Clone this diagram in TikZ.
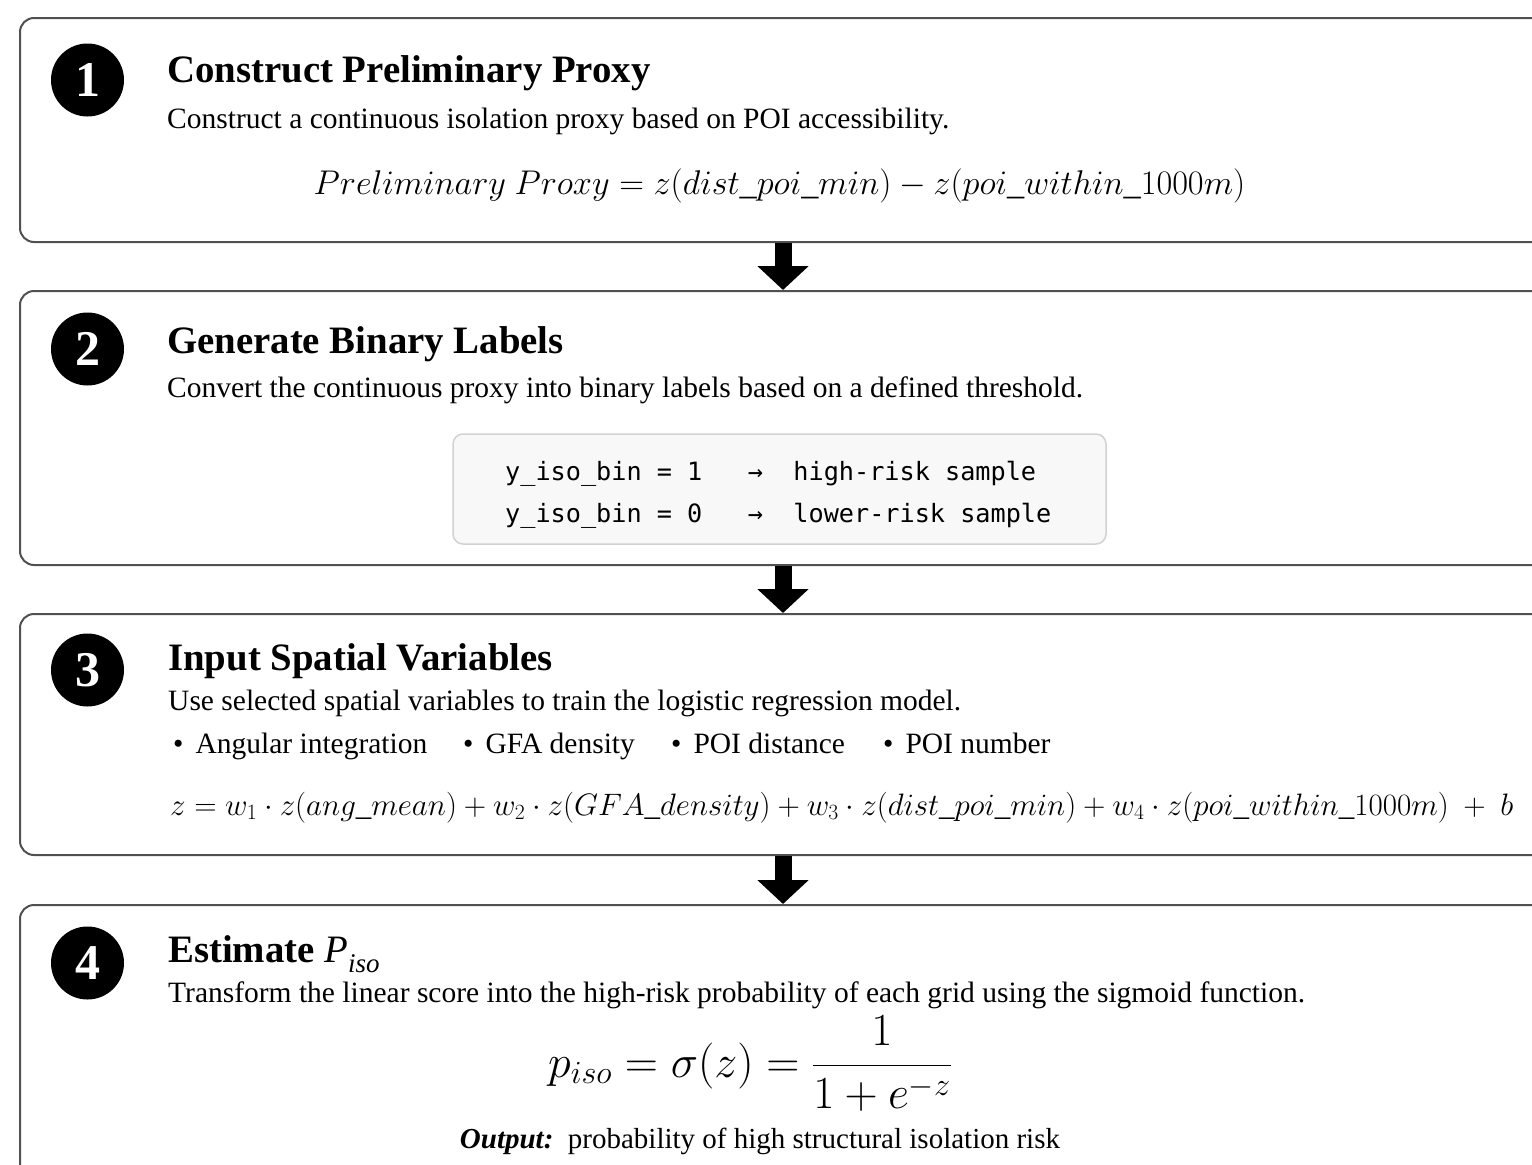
\RequirePackage{fix-cm}
\documentclass[tikz,border=0pt]{standalone}
\usepackage[no-math]{fontspec}
\setmainfont{Liberation Serif}
\setmonofont{DejaVu Sans Mono}
\usetikzlibrary{arrows.meta}
\definecolor{boxgray}{HTML}{505050}
\definecolor{codeline}{HTML}{D2D2D2}
\definecolor{codefill}{HTML}{F8F8F8}
\begin{document}
\begin{tikzpicture}[x=1pt,y=-1pt,
  stepbox/.style={draw=boxgray, line width=2pt, rounded corners=14pt, fill=white, minimum width=1526pt, inner sep=0pt},
  badge/.style={circle, fill=black, minimum size=73pt, inner sep=0pt, text=white, font=\fontsize{50}{50}\selectfont\bfseries},
  ttl/.style={anchor=base west, inner sep=0pt, font=\fontsize{38.8}{44}\selectfont\bfseries},
  desc/.style={anchor=base west, inner sep=0pt, font=\fontsize{29.5}{34}\selectfont},
  eq/.style={anchor=base, inner sep=0pt},
  code/.style={anchor=base west, inner sep=0pt, font=\fontsize{25.2}{30}\selectfont\ttfamily},
  flow/.style={line width=17pt, -{Triangle[width=50pt,length=24pt]}},
]
\useasboundingbox (0,0) rectangle (1532,1165);
\clip (0,0) rectangle (1532,1165);
\fill[white] (0,0) rectangle (1532,1165);

% step boxes
\node[stepbox, minimum height=224pt] (b1) at (783,130) {};
\node[stepbox, minimum height=274pt] (b2) at (783,428) {};
\node[stepbox, minimum height=241pt] (b3) at (783,734.5) {};
\node[stepbox, minimum height=290pt] (b4) at (783,1050) {};

% connectors
\draw[flow] (b1.south) -- (b2.north);
\draw[flow] (b2.south) -- (b3.north);
\draw[flow] (b3.south) -- (b4.north);

% badges
\node[badge] (n1) at (87.5,80) {1};
\node[badge] (n2) at (87.5,349) {2};
\node[badge] (n3) at (87.5,670) {3};
\node[badge] (n4) at (87.5,963) {4};

% step 1
\node[ttl] (t1) at (167,82) {Construct Preliminary Proxy};
\node[desc] (d1) at (167,128) {Construct a continuous isolation proxy based on POI accessibility.};
\node[eq, font=\fontsize{34.3}{40}\selectfont] (e1) at (779.5,194)
  {$Preliminary\ Proxy = z(dist\_poi\_min) - z(poi\_within\_1000m)$};

% step 2
\node[ttl] (t2) at (167,353) {Generate Binary Labels};
\node[desc] (d2) at (167,397) {Convert the continuous proxy into binary labels based on a defined threshold.};
\node[draw=codeline, fill=codefill, line width=1.5pt, rounded corners=10pt,
      minimum width=653pt, minimum height=110pt, inner sep=0pt] (cb) at (779.5,489) {};
\node[code] (c1) at (505,480) {y\_iso\_bin~=~1~~~→~~high-risk~sample};
\node[code] (c2) at (505,522) {y\_iso\_bin~=~0~~~→~~lower-risk~sample};

% step 3
\node[ttl] (t3) at (168,670) {Input Spatial Variables};
\node[desc] (d3) at (168,710) {Use selected spatial variables to train the logistic regression model.};
\node[desc] (v1) at (173,753) {\textbullet\hspace{12pt}Angular integration};
\node[desc] (v2) at (463,753) {\textbullet\hspace{12pt}GFA density};
\node[desc] (v3) at (671,753) {\textbullet\hspace{12pt}POI distance};
\node[desc] (v4) at (883,753) {\textbullet\hspace{12pt}POI number};
\node[eq, anchor=base west, font=\fontsize{31}{36}\selectfont] (e3) at (170,815)
  {$z = w_1\cdot z(ang\_mean) + w_2\cdot z(GFA\_density) + w_3\cdot z(dist\_poi\_min) + w_4\cdot z(poi\_within\_1000m)\ +\ b$};

% step 4
\node[ttl] (t4) at (168,962) {Estimate {\mdseries\itshape P\raisebox{-0.28em}{\fontsize{27}{27}\selectfont iso}}};
\node[desc] (d4) at (168,1002) {Transform the linear score into the high-risk probability of each grid using the sigmoid function.};
\node[eq, font=\fontsize{46}{52}\selectfont] (e4) at (750,1077)
  {$\displaystyle p_{iso} = \sigma(z) = \frac{1}{1+e^{-z}}$};
\node[desc, anchor=base, font=\fontsize{29}{34}\selectfont] (o4) at (760,1148) {\textbf{\textit{Output:}}\ \ probability of high structural isolation risk};
\end{tikzpicture}
\end{document}
